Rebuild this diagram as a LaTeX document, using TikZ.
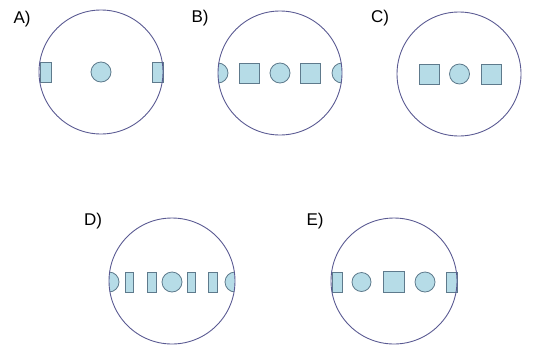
\documentclass[tikz,border=0pt]{standalone}
\usepackage{fontspec}
\setmainfont{Liberation Sans}
\definecolor{rim}{HTML}{5A5A92}
\definecolor{edge}{HTML}{5E7A8C}
\definecolor{pale}{HTML}{B6DCE7}

\begin{document}
\begin{tikzpicture}[x=1pt,y=-1pt,
 big/.style={circle,draw=rim,line width=0.9pt,minimum size=#1,inner sep=0pt},
 big/.default=124pt,
 dot/.style={circle,draw=edge,fill=pale,line width=0.8pt,minimum size=20pt,inner sep=0pt},
 sq/.style={rectangle,draw=edge,fill=pale,line width=0.8pt,minimum width=20pt,minimum height=20pt,inner sep=0pt},
 bar/.style={sq,minimum width=#1},
 lbl/.style={font=\fontsize{17}{17}\selectfont,inner sep=0pt}]
 \useasboundingbox (0,0) rectangle (534,351);
 % A
 \node[dot] (a1) at (101,72) {};
 \node[bar=11pt] (a0) at (45.5,72) {};
 \node[bar=11pt] (a2) at (157.5,72) {};
 \node[big] (ca) at (101,72) {};
 \node[lbl] (la) at (22,19) {A)};
 % B
 \begin{scope}
  \clip (280,73) circle (62);
  \node[dot] (b0) at (218,73) {};
  \node[dot] (b4) at (342,73) {};
 \end{scope}
 \node[sq] (b1) at (249,73) {};
 \node[dot] (b2) at (280,73) {};
 \node[sq] (b3) at (310.5,73) {};
 \node[big] (cb) at (280,73) {};
 \node[lbl] (lb) at (200,18) {B)};
 % C
 \node[sq] (c1) at (429.5,74) {};
 \node[dot] (c2) at (459.5,74) {};
 \node[sq] (c3) at (491,74) {};
 \node[big] (cc) at (459,74) {};
 \node[lbl] (lc) at (380,18) {C)};
 % D
 \begin{scope}
  \clip (172,281) circle (63);
  \node[dot] (d0) at (109,282) {};
  \node[dot] (d6) at (235,282) {};
 \end{scope}
 \node[bar=8pt] (d1) at (129,282) {};
 \node[bar=9pt] (d2) at (151.5,282) {};
 \node[dot] (d3) at (172,282) {};
 \node[bar=8pt] (d4) at (191,282) {};
 \node[bar=9pt] (d5) at (212.5,282) {};
 \node[big=126pt] (cd) at (172,281) {};
 \node[lbl] (ld) at (93,221) {D)};
 % E
 \node[bar=10pt] (e0) at (337,282) {};
 \node[dot,minimum size=19pt] (e1) at (361.5,282) {};
 \node[sq,minimum size=21pt] (e2) at (394,282) {};
 \node[dot] (e3) at (425,282) {};
 \node[bar=11pt] (e4) at (451.5,282) {};
 \node[big=126pt] (ce) at (394,281) {};
 \node[lbl] (le) at (315,221) {E)};
\end{tikzpicture}
\end{document}
